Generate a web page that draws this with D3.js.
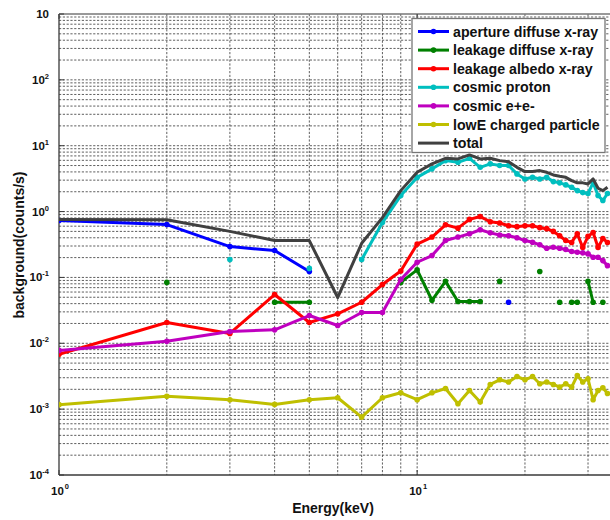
<!DOCTYPE html>
<html>
<head>
<meta charset="utf-8">
<script src="https://cdn.jsdelivr.net/npm/d3@7"></script>
<style>
  html, body { margin: 0; padding: 0; background: #fff; }
  svg { display: block; font-family: "Liberation Sans", Arial, sans-serif; }
</style>
</head>
<body>
<svg id="chart" width="610" height="520"></svg>
<script>
// Energy bins (keV)
const energy = d3.range(1, 35);

// Background rates (counts/s) per energy bin; null = no count in that bin
const apertureDiffuse = [0.73, 0.635, 0.294, 0.256, 0.123, null, null, null, null, null,
  null, null, null, null, null, null, null, 0.042, null, null,
  null, null, null, null, null, null, null, null, null, null,
  null, null, null, null];
const leakageDiffuse = [null, 0.084, null, 0.042, 0.042, null, null, null, 0.084, 0.13,
  0.045, 0.087, 0.043, 0.043, 0.043, null, 0.087, null, null, null,
  null, 0.123, null, null, 0.042, null, 0.042, 0.042, null, 0.087,
  0.042, null, 0.042, null];
const leakageAlbedo = [0.0068, 0.0207, 0.0141, 0.055, 0.0207, 0.028, 0.042, 0.078, 0.125, 0.32,
  0.41, 0.63, 0.56, 0.76, 0.84, 0.70, 0.67, 0.61, 0.59, 0.61,
  0.61, 0.57, 0.55, 0.50, 0.43, 0.363, 0.34, 0.46, 0.284, 0.42,
  0.48, 0.284, 0.39, 0.34];
const cosmicProton = [null, null, 0.187, null, 0.137, null, 0.187, 0.68, 1.75, 3.3,
  4.45, 5.94, 5.6, 6.44, 4.7, 5.3, 5.0, 5.0, 3.73, 3.13,
  3.31, 3.13, 3.31, 2.85, 2.73, 2.54, 2.34, 2.08, 1.94, 1.88,
  2.75, 1.75, 1.47, 1.88];
const cosmicElectron = [0.0078, 0.0107, 0.0151, 0.016, 0.0264, 0.0186, 0.0293, 0.0293, 0.093, 0.17,
  0.215, 0.363, 0.41, 0.46, 0.53, 0.475, 0.44, 0.43, 0.40, 0.363,
  0.342, 0.313, 0.277, 0.287, 0.277, 0.265, 0.247, 0.241, 0.236, 0.228,
  0.203, 0.203, 0.18, 0.151];
const lowECharged = [0.00117, 0.00157, 0.00139, 0.00118, 0.00139, 0.00149, 0.000757, 0.00149, 0.00177, 0.00139,
  0.00177, 0.00206, 0.00121, 0.00192, 0.00128, 0.00237, 0.00279, 0.00258, 0.00313, 0.00279,
  0.00313, 0.00243, 0.00258, 0.00237, 0.00216, 0.00243, 0.00216, 0.00324, 0.00258, 0.00289,
  0.00139, 0.00192, 0.00211, 0.00173];
const total = [0.76, 0.75, 0.50, 0.363, 0.363, 0.0495, 0.33, 0.81, 2.08, 3.95,
  5.3, 6.44, 6.3, 7.25, 6.3, 6.44, 5.94, 5.7, 4.7, 4.05,
  4.05, 4.19, 3.95, 3.6, 3.43, 3.31, 2.95, 2.73, 2.73, 2.63,
  3.13, 2.26, 2.08, 2.34];

const seriesNames = ["aperture diffuse x-ray", "leakage diffuse x-ray", "leakage albedo x-ray",
  "cosmic proton", "cosmic e+e-", "lowE charged particle", "total"];
const seriesValues = [apertureDiffuse, leakageDiffuse, leakageAlbedo, cosmicProton,
  cosmicElectron, lowECharged, total];

// Axis tick labels: base and exponent
const xTickValues = [1, 10];
const xTickExponents = ["0", "1"];
const yTickValues = [1e-4, 1e-3, 1e-2, 1e-1, 1, 10, 100, 1000];
const yTickExponents = ["-4", "-3", "-2", "-1", "0", "1", "2", ""];
const xTitle = "Energy(keV)";
const yTitle = "background(counts/s)";

// ---- styling ----
const colors = ["#0000ff", "#008000", "#ff0000", "#00bfbf", "#bf00bf", "#bfbf00", "#404040"];
const withMarkers = [true, true, true, true, true, true, false];

const svg = d3.select("#chart");
const plotLeft = 59, plotTop = 14, plotBottom = 475, plotRight = 612;

const x = d3.scaleLog().domain([1, 35]).range([plotLeft, plotRight]);
const y = d3.scaleLog().domain([1e-4, 1e3]).range([plotBottom, plotTop]);

// grid
const grid = svg.append("g").attr("stroke", "#444").attr("stroke-width", 1)
  .attr("stroke-dasharray", "2.2,1.6").attr("opacity", 0.85);
const xGrid = [];
[1, 10].forEach(d => { for (let k = 1; k <= 9; k++) xGrid.push(d * k); });
xGrid.push(100);
grid.selectAll("line.vx").data(xGrid.filter(v => v > 1 && x(v) < 610)).join("line")
  .attr("x1", d => x(d)).attr("x2", d => x(d)).attr("y1", plotTop).attr("y2", plotBottom);
const yGrid = [];
for (let e = -4; e < 3; e++) for (let k = 1; k <= 9; k++) yGrid.push(k * Math.pow(10, e));
grid.selectAll("line.hy").data(yGrid.filter(v => v > 1e-4)).join("line")
  .attr("x1", plotLeft).attr("x2", 610).attr("y1", d => y(d)).attr("y2", d => y(d));

// axes frame
const frame = svg.append("g").attr("stroke", "#3a3a3a").attr("stroke-width", 1.3).attr("fill", "none");
frame.append("line").attr("x1", plotLeft).attr("x2", plotLeft).attr("y1", plotTop).attr("y2", plotBottom);
frame.append("line").attr("x1", plotLeft).attr("x2", 610).attr("y1", plotBottom).attr("y2", plotBottom);
frame.append("line").attr("x1", plotLeft).attr("x2", 610).attr("y1", plotTop).attr("y2", plotTop)
  .attr("stroke", "#777");

// ticks
const ticks = svg.append("g").attr("stroke", "#3a3a3a").attr("stroke-width", 1);
ticks.selectAll("line.yt").data(yTickValues).join("line")
  .attr("x1", plotLeft).attr("x2", plotLeft + 5).attr("y1", d => y(d)).attr("y2", d => y(d));
ticks.selectAll("line.xt").data(xTickValues).join("line")
  .attr("x1", d => x(d)).attr("x2", d => x(d)).attr("y1", plotBottom).attr("y2", plotBottom - 5);
ticks.selectAll("line.xt2").data(xTickValues).join("line")
  .attr("x1", d => x(d)).attr("x2", d => x(d)).attr("y1", plotTop).attr("y2", plotTop + 5);

// tick labels
const yLab = svg.append("g").attr("font-size", 11.5).attr("font-weight", "bold").attr("fill", "#111");
yTickValues.forEach((v, i) => {
  const t = yLab.append("text").attr("x", 49).attr("y", y(v) + 4).attr("text-anchor", "end");
  t.append("tspan").text("10");
  if (yTickExponents[i]) t.append("tspan").attr("font-size", 7.5).attr("dy", -5).text(yTickExponents[i]);
});
const xLab = svg.append("g").attr("font-size", 11.5).attr("font-weight", "bold").attr("fill", "#111");
xTickValues.forEach((v, i) => {
  const t = xLab.append("text").attr("x", x(v) + 1).attr("y", 495).attr("text-anchor", "middle");
  t.append("tspan").text("10");
  t.append("tspan").attr("font-size", 7.5).attr("dy", -6).attr("dx", 1).text(xTickExponents[i]);
});

// axis titles
svg.append("text").attr("x", 333).attr("y", 513).attr("text-anchor", "middle")
  .attr("font-size", 14).attr("font-weight", "bold").attr("fill", "#111").text(xTitle);
svg.append("text").attr("transform", "translate(24,245) rotate(-90)").attr("text-anchor", "middle")
  .attr("font-size", 14).attr("font-weight", "bold").attr("fill", "#111").text(yTitle);

// data
svg.append("clipPath").attr("id", "plotClip").append("rect")
  .attr("x", plotLeft).attr("y", plotTop).attr("width", plotRight - plotLeft).attr("height", plotBottom - plotTop);
const plot = svg.append("g").attr("clip-path", "url(#plotClip)");
const line = d3.line().defined(d => d.v != null).x(d => x(d.e)).y(d => y(d.v));

seriesValues.forEach((vals, i) => {
  const pts = energy.map((e, j) => ({ e, v: vals[j] }));
  const g = plot.append("g");
  g.append("path").datum(pts).attr("d", line).attr("fill", "none")
    .attr("stroke", colors[i]).attr("stroke-width", 3).attr("stroke-linejoin", "round");
  if (withMarkers[i]) {
    g.selectAll("circle").data(pts.filter(d => d.v != null)).join("circle")
      .attr("cx", d => x(d.e)).attr("cy", d => y(d.v)).attr("r", 2.8).attr("fill", colors[i]);
  }
});

// legend
const lg = svg.append("g");
lg.append("rect").attr("x", 412).attr("y", 18.5).attr("width", 193).attr("height", 134)
  .attr("fill", "#fff").attr("stroke", "#777").attr("stroke-width", 1.3);
seriesNames.forEach((name, i) => {
  const cy = 31.5 + i * 18.6;
  lg.append("line").attr("x1", 418).attr("x2", 449).attr("y1", cy).attr("y2", cy)
    .attr("stroke", colors[i]).attr("stroke-width", 3);
  if (withMarkers[i]) lg.append("circle").attr("cx", 433.5).attr("cy", cy).attr("r", 2.8).attr("fill", colors[i]);
  lg.append("text").attr("x", 453).attr("y", cy + 5).attr("font-size", 14.2).attr("font-weight", "bold")
    .attr("fill", "#111").text(name);
});
</script>
</body>
</html>
